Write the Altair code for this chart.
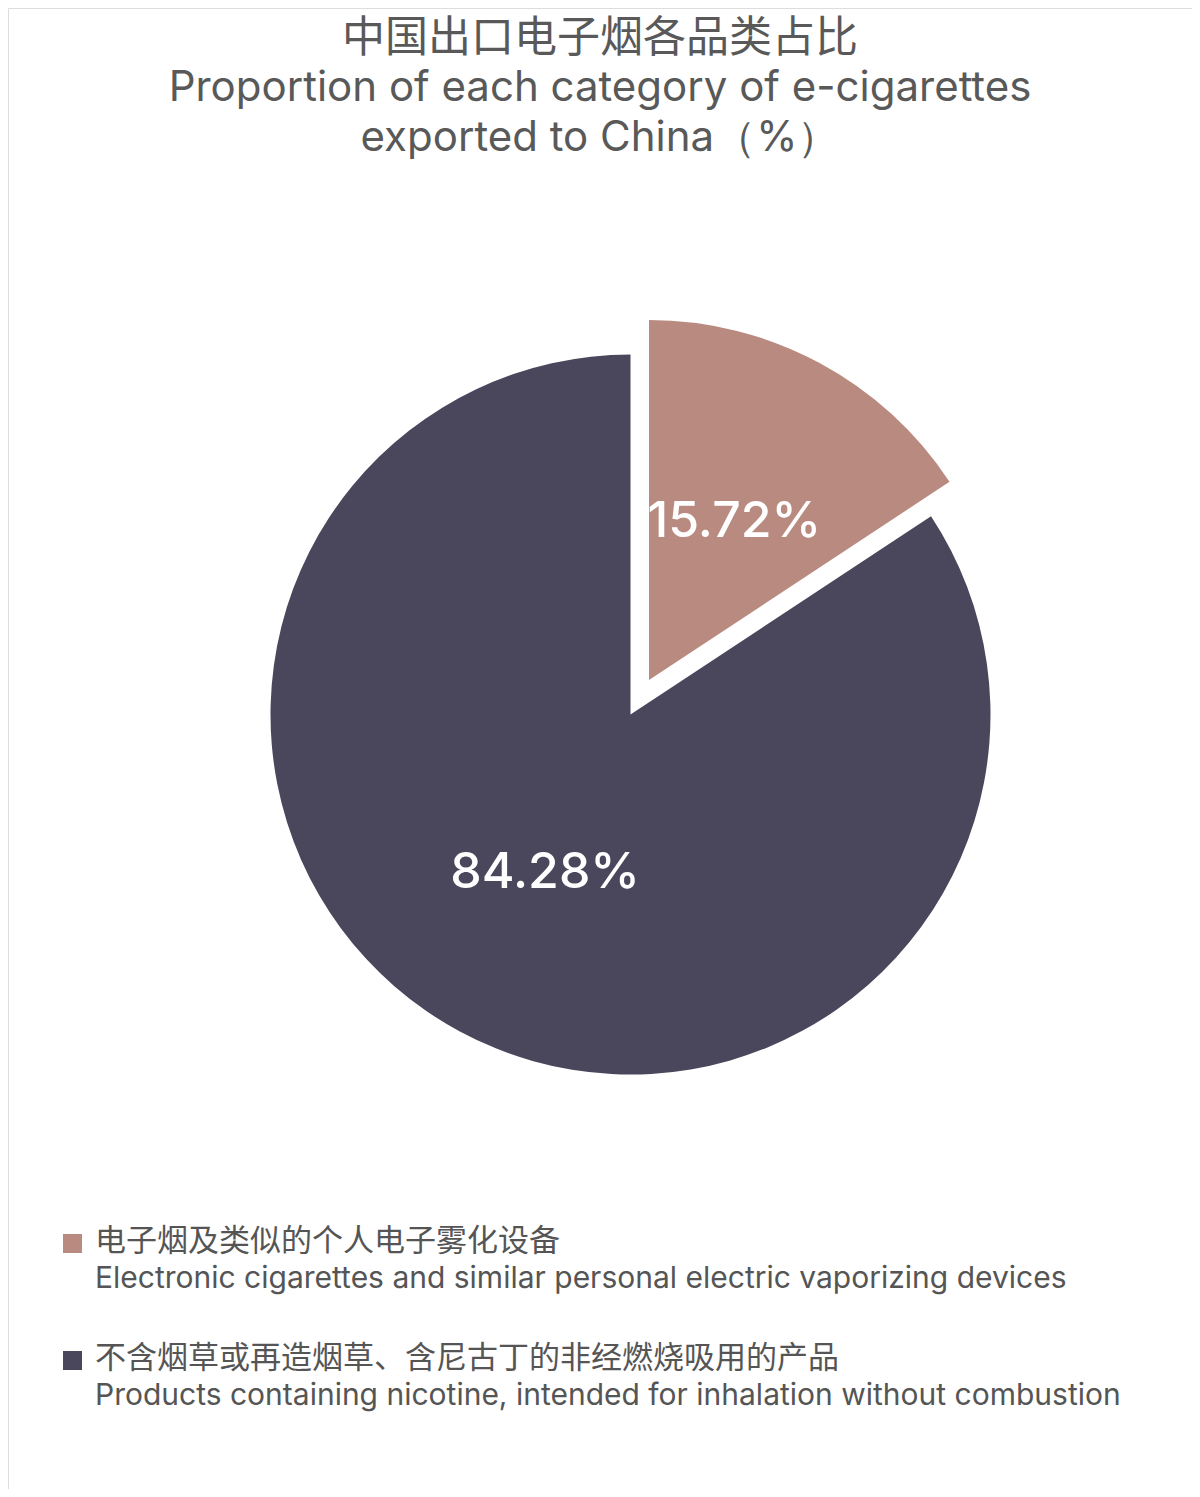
import altair as alt
import pandas as pd

# ---- data ----
cat_cn = ["电子烟及类似的个人电子雾化设备", "不含烟草或再造烟草、含尼古丁的非经燃烧吸用的产品"]
cat_en = ["Electronic cigarettes and similar personal electric vaporizing devices",
          "Products containing nicotine, intended for inhalation without combustion"]
values = [15.72, 84.28]
labels = ["15.72%", "84.28%"]
colors = ["#B98A80", "#4A475C"]
title_cn = "中国出口电子烟各品类占比"
title_en = ["Proportion of each category of e-cigarettes", "exported to China（%）"]

df = pd.DataFrame({"cn": cat_cn, "en": cat_en, "val": values, "label": labels, "order": [0, 1]})

W, H = 1184, 1481
CX, CY = 622.5, 706.5      # pie centre (plot coords)
R = 360
EX, EY = 18.5, -34.5       # explode offset of first slice

color_scale = alt.Scale(domain=cat_cn, range=colors)
base = alt.Chart(df).encode(
    theta=alt.Theta("val:Q", stack=True),
    order=alt.Order("order:Q"),
)

is_first = alt.datum.order == 0
col = alt.Color("cn:N", scale=color_scale, legend=None)

arc_main = base.mark_arc(radius=R, stroke=None).encode(
    x=alt.value(CX), y=alt.value(CY), color=col,
    opacity=alt.condition(is_first, alt.value(0), alt.value(1)),
)
arc_expl = base.mark_arc(radius=R, stroke=None).encode(
    x=alt.value(CX + EX), y=alt.value(CY + EY), color=col,
    opacity=alt.condition(is_first, alt.value(1), alt.value(0)),
)

txt_kw = dict(radius=180, fontSize=50, fontWeight=500, font="Inter",
              align="center", baseline="middle")
txt_main = base.mark_text(**txt_kw).encode(
    x=alt.value(CX), y=alt.value(CY), text="label:N", color=alt.value("white"),
    opacity=alt.condition(is_first, alt.value(0), alt.value(1)),
)
txt_expl = base.mark_text(**txt_kw).encode(
    x=alt.value(CX + EX), y=alt.value(CY + EY), text="label:N", color=alt.value("white"),
    opacity=alt.condition(is_first, alt.value(1), alt.value(0)),
)

# ---- custom legend ----
ypos = alt.Y("cn:N", scale=alt.Scale(domain=cat_cn, range=[1235.5, 1352.5], padding=0), axis=None)
leg = alt.Chart(df)
leg_sq = leg.mark_square(size=361, opacity=1).encode(
    x=alt.value(64.5), y=ypos, color=col,
)
leg_cn = leg.mark_text(align="left", baseline="middle", fontSize=31, color="#555555",
                       font="Noto Sans CJK SC", dy=-2).encode(
    x=alt.value(87), y=ypos, text="cn:N")
leg_en = leg.mark_text(align="left", baseline="middle", fontSize=30, color="#555555",
                       font="Inter", dy=35).encode(
    x=alt.value(87), y=ypos, text="en:N")

chart = alt.layer(arc_main, arc_expl, txt_main, txt_expl, leg_sq, leg_cn, leg_en).properties(
    width=W, height=H,
    title=alt.TitleParams(
        text=title_cn, subtitle=title_en, anchor="middle",
        fontSize=43, fontWeight="normal", font="Noto Sans CJK SC", color="#595959",
        subtitleFont="Inter", subtitleFontSize=42, subtitleColor="#595959",
        subtitleLineHeight=50, subtitlePadding=7, offset=-151,
    ),
    padding=0,
    autosize=alt.AutoSizeParams(type="none"),
).configure_view(stroke=None).configure(background="white")

chart.save("out.html", embed_options={"renderer": "svg", "actions": False})
